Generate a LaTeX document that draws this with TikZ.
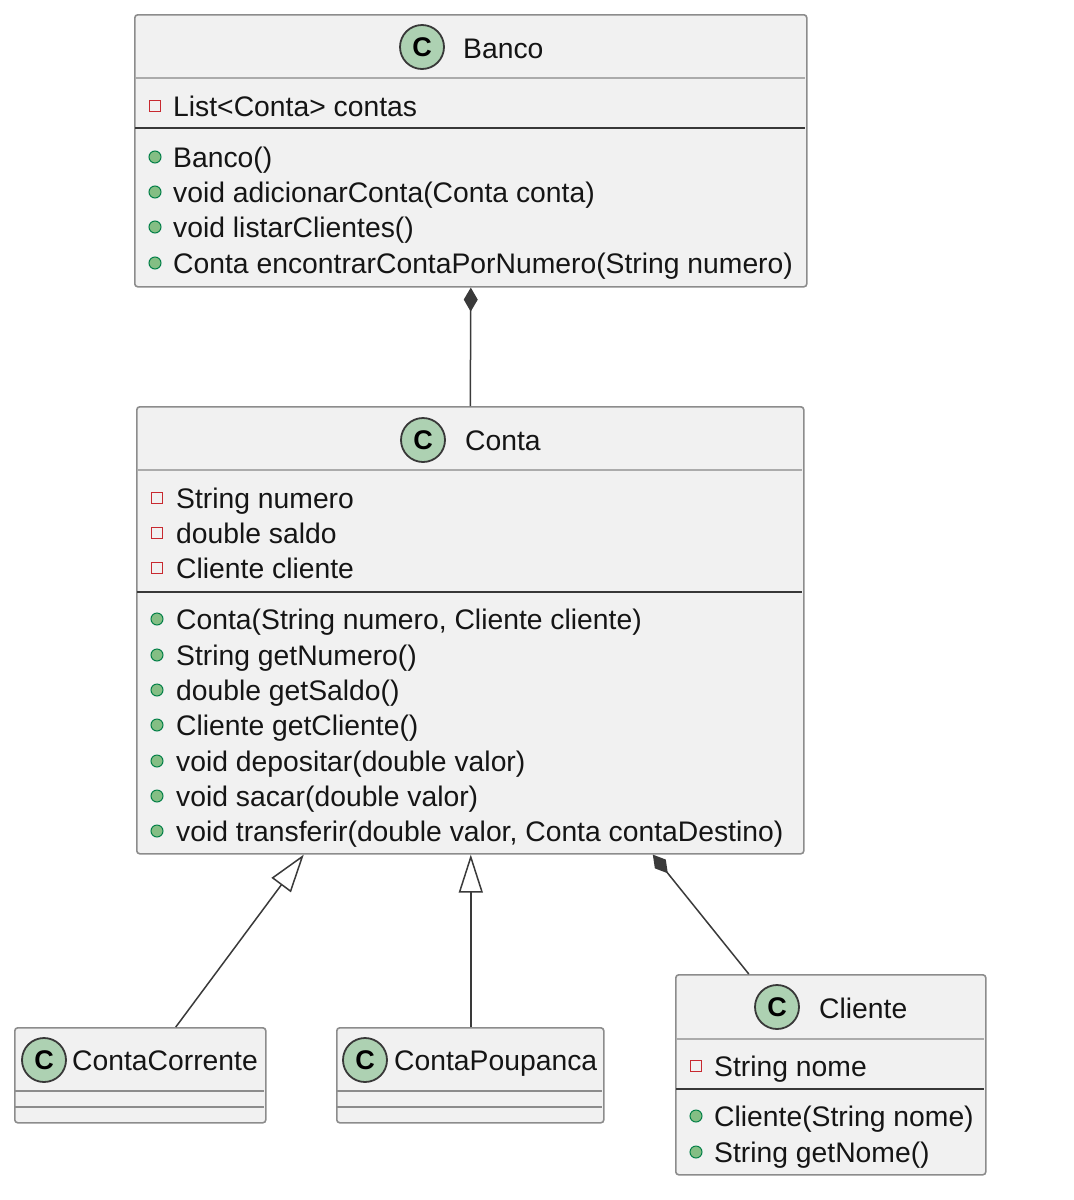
\documentclass[tikz,border=0pt]{standalone}
\usepackage{fontspec}
\setmainfont{Liberation Sans}
\usetikzlibrary{arrows.meta,calc}
\definecolor{boxfill}{HTML}{F1F1F1}
\definecolor{boxline}{HTML}{8C8C8C}
\definecolor{headline}{HTML}{ABABAB}
\definecolor{darksep}{HTML}{383838}
\definecolor{iconfill}{HTML}{ADD1B2}
\definecolor{icondraw}{HTML}{383838}
\definecolor{privred}{HTML}{C82930}
\definecolor{pubfill}{HTML}{84BE84}
\definecolor{pubdraw}{HTML}{038048}
\definecolor{linecol}{HTML}{3A3A3A}
\definecolor{txt}{HTML}{151515}
\begin{document}
\begin{tikzpicture}[x=1pt,y=-1pt,
  classbox/.style={draw=boxline, fill=boxfill, line width=1.6pt, rounded corners=3pt, inner sep=0pt, anchor=north west},
  headsep/.style={draw=headline, line width=2.2pt},
  darkline/.style={draw=darksep, line width=1.8pt},
  lightline/.style={draw=boxline, line width=1.6pt},
  member/.style={anchor=west, inner sep=0pt, text height=20pt, text depth=0pt, font=\fontsize{28.3}{34}\selectfont, text=txt},
  classicon/.style={circle, draw=icondraw, fill=iconfill, line width=1.8pt, minimum size=44pt, inner sep=0pt, font=\fontsize{27}{30}\selectfont\bfseries, text=black},
  priv/.style={rectangle, draw=privred, line width=1.4pt, minimum size=11pt, inner sep=0pt},
  pub/.style={circle, draw=pubdraw, fill=pubfill, line width=1pt, minimum size=12pt, inner sep=0pt},
  comp/.style={draw=linecol, line width=1.5pt, -{Diamond[length=24pt,width=14pt]}},
  inh/.style={draw=linecol, line width=1.5pt, -{Triangle[open, length=38pt, width=24pt, fill=white]}}
]
\useasboundingbox[fill=white] (0,0) rectangle (1074,1200);

% ---------- Banco ----------
\node[classbox, minimum width=672pt, minimum height=272pt] (banco) at (134,14) {};
\draw[headsep] (135,78) -- (805,78);
\draw[darkline] (135,128) -- (805,128);
\node[classicon] (bancoIcon) at (422,47) {C};
\node[member] (bancoTitle) at (463,48) {Banco};
\node[priv] at (155,106) {};
\node[member] at (173,106) {List<Conta> contas};
\node[pub] at (155,157) {};
\node[member] at (173,157) {Banco()};
\node[pub] at (155,192) {};
\node[member] at (173,192) {void adicionarConta(Conta conta)};
\node[pub] at (155,227) {};
\node[member] at (173,227) {void listarClientes()};
\node[pub] at (155,263) {};
\node[member] at (173,263) {Conta encontrarContaPorNumero(String numero)};

% ---------- Conta ----------
\node[classbox, minimum width=667pt, minimum height=447pt] (conta) at (136,406) {};
\draw[headsep] (137,470) -- (802,470);
\draw[darkline] (137,592) -- (802,592);
\node[classicon] (contaIcon) at (423,440) {C};
\node[member] (contaTitle) at (465,440) {Conta};
\node[priv] at (157,498) {};
\node[member] at (176,498) {String numero};
\node[priv] at (157,533) {};
\node[member] at (176,533) {double saldo};
\node[priv] at (157,568) {};
\node[member] at (176,568) {Cliente cliente};
\node[pub] at (157,619) {};
\node[member] at (176,619) {Conta(String numero, Cliente cliente)};
\node[pub] at (157,655) {};
\node[member] at (176,655) {String getNumero()};
\node[pub] at (157,690) {};
\node[member] at (176,690) {double getSaldo()};
\node[pub] at (157,725) {};
\node[member] at (176,725) {Cliente getCliente()};
\node[pub] at (157,761) {};
\node[member] at (176,761) {void depositar(double valor)};
\node[pub] at (157,796) {};
\node[member] at (176,796) {void sacar(double valor)};
\node[pub] at (157,831) {};
\node[member] at (176,831) {void transferir(double valor, Conta contaDestino)};

% ---------- ContaCorrente ----------
\node[classbox, minimum width=251pt, minimum height=95pt] (cc) at (14,1027) {};
\draw[lightline] (15,1091) -- (264,1091);
\draw[lightline] (15,1107) -- (264,1107);
\node[classicon] (ccIcon) at (44,1060) {C};
\node[member] (ccTitle) at (72,1060) {ContaCorrente};

% ---------- ContaPoupanca ----------
\node[classbox, minimum width=267pt, minimum height=95pt] (cp) at (336,1027) {};
\draw[lightline] (337,1091) -- (602,1091);
\draw[lightline] (337,1107) -- (602,1107);
\node[classicon] (cpIcon) at (365,1060) {C};
\node[member] (cpTitle) at (394,1060) {ContaPoupanca};

% ---------- Cliente ----------
\node[classbox, minimum width=310pt, minimum height=200pt] (cliente) at (675,974) {};
\draw[headsep] (676,1039) -- (984,1039);
\draw[darkline] (676,1089) -- (984,1089);
\node[classicon] (clienteIcon) at (777,1007) {C};
\node[member] (clienteTitle) at (819,1008) {Cliente};
\node[priv] at (696,1066) {};
\node[member] at (714,1066) {String nome};
\node[pub] at (696,1116) {};
\node[member] at (714,1116) {Cliente(String nome)};
\node[pub] at (696,1152) {};
\node[member] at (714,1152) {String getNome()};

% ---------- Relations ----------
\draw[comp] (conta.north) -- (banco.south);
\draw[comp] ([xshift=-82pt]cliente.north) -- ([xshift=182.5pt]conta.south);
\draw[inh] ([xshift=35.5pt]cc.north) -- ([xshift=-166.5pt]conta.south);
\draw[inh] ([xshift=0.5pt]cp.north) -- ([xshift=0.5pt]conta.south);
\end{tikzpicture}
\end{document}
